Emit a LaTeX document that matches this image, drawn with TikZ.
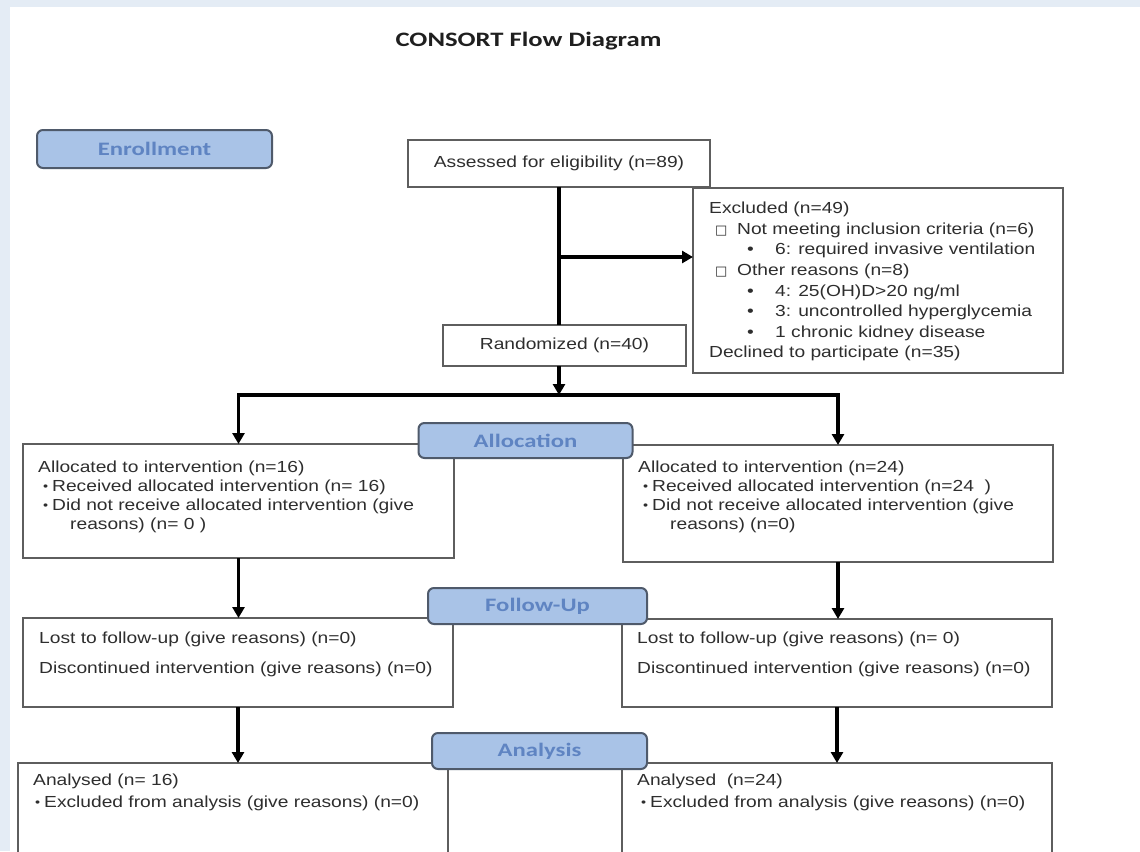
\documentclass[tikz,border=0pt]{standalone}
\usepackage{fontspec}
\usetikzlibrary{arrows.meta}
\setmainfont{Liberation Sans}[FakeStretch=1.2]
\newfontfamily\titlefont{Carlito}[FakeStretch=1.3]
\newfontfamily\symfont{DejaVu Sans}
\definecolor{bandblue}{HTML}{E4ECF5}
\definecolor{labfill}{HTML}{A9C3E7}
\definecolor{labtext}{HTML}{5F84C2}
\definecolor{labedge}{HTML}{4F5A6B}
\definecolor{boxedge}{HTML}{5E5E5E}
\definecolor{txt}{HTML}{2E2E2E}
\tikzset{
  box/.style={draw=boxedge, line width=1.8pt, fill=white, inner sep=0pt, outer sep=0pt},
  lab/.style={draw=labedge, line width=2pt, fill=labfill, rounded corners=6pt, inner sep=0pt,
    font={\titlefont\bfseries\fontsize{19}{19}\selectfont}, text=labtext},
  oneline/.style={inner sep=0pt, text=txt, font={\fontsize{16}{18}\selectfont}},
  txtblock/.style={inner sep=0pt, align=left, anchor=north west, text=txt},
  conn/.style={draw=black, line width=3.2pt},
  arr/.style={conn, -{Triangle[length=11pt,width=12pt]}}
}
\newcommand{\bx}[5]{\node[box, minimum width={(#4)-(#2)}, minimum height={(#5)-(#3)}, anchor=north west] (#1) at (#2,#3) {};}
\newcommand{\sbul}{\makebox[9pt][l]{\raisebox{1pt}{\fontsize{12}{12}\selectfont •}}}
\newcommand{\sqbox}{\makebox[22pt][l]{\symfont\fontsize{13}{13}\selectfont □}}
\begin{document}
\begin{tikzpicture}[x=1pt,y=-1pt]
\useasboundingbox (0,0) rectangle (1140,851);
\clip (0,0) rectangle (1140,851);
\fill[white] (0,0) rectangle (1140,851);
\fill[bandblue] (0,0) rectangle (1140,7);
\fill[bandblue] (0,0) rectangle (10,851);

% title
\node[inner sep=0pt, anchor=base, text=black!88, font={\titlefont\bfseries\fontsize{20.5}{20.5}\selectfont}] (title) at (528.5,46.6) {CONSORT Flow Diagram};

% boxes
\bx{assess}{408}{140}{710}{187}
\bx{rand}{443}{325}{686}{366}
\bx{excl}{693}{188}{1063}{373}
\bx{alL}{23}{444}{454}{558}
\bx{alR}{623}{445}{1053}{562}
\bx{fuL}{23}{618}{453}{707}
\bx{fuR}{622}{619}{1052}{707}
\bx{anL}{18}{763}{448}{880}
\bx{anR}{622}{763}{1052}{880}

% texts
\node[oneline] (assesstxt) at (assess.center) {Assessed for eligibility (n=89)};
\node[oneline] (randtxt) at (rand.center) {Randomized (n=40)};
\node[txtblock, font={\fontsize{16}{20.6}\selectfont}] (excltxt) at (709,202) {%
Excluded (n=49)\\
\hspace*{6pt}\sqbox Not meeting inclusion criteria (n=6)\\
\hspace*{38pt}\makebox[28pt][l]{•}6: required invasive ventilation\\
\hspace*{6pt}\sqbox Other reasons (n=8)\\
\hspace*{38pt}\makebox[28pt][l]{•}4: 25(OH)D>20 ng/ml\\
\hspace*{38pt}\makebox[28pt][l]{•}3: uncontrolled hyperglycemia\\
\hspace*{38pt}\makebox[28pt][l]{•}1 chronic kidney disease\\
Declined to participate (n=35)};
\node[txtblock, font={\fontsize{16}{19}\selectfont}] (alLtxt) at (38,461) {%
Allocated to intervention (n=16)\\
\hspace*{5pt}\sbul Received allocated intervention (n= 16)\\
\hspace*{5pt}\sbul Did not receive allocated intervention (give\\
\hspace*{32pt}reasons) (n= 0 )};
\node[txtblock, font={\fontsize{16}{19}\selectfont}] (alRtxt) at (638,461) {%
Allocated to intervention (n=24)\\
\hspace*{5pt}\sbul Received allocated intervention (n=24\ \ )\\
\hspace*{5pt}\sbul Did not receive allocated intervention (give\\
\hspace*{32pt}reasons) (n=0)};
\node[txtblock, font={\fontsize{16}{30}\selectfont}] (fuLtxt) at (39,632) {%
Lost to follow-up (give reasons) (n=0)\\
Discontinued intervention (give reasons) (n=0)};
\node[txtblock, font={\fontsize{16}{30}\selectfont}] (fuRtxt) at (637,632) {%
Lost to follow-up (give reasons) (n= 0)\\
Discontinued intervention (give reasons) (n=0)};
\node[txtblock, font={\fontsize{16}{22}\selectfont}] (anLtxt) at (33,774) {%
Analysed (n= 16)\\
\hspace*{2pt}\sbul Excluded from analysis (give reasons) (n=0)};
\node[txtblock, font={\fontsize{16}{22}\selectfont}] (anRtxt) at (637,774) {%
Analysed\ \ (n=24)\\
\hspace*{4pt}\sbul Excluded from analysis (give reasons) (n=0)};

% stage labels
\node[lab, minimum width=235, minimum height=38] (enroll) at (154.5,149) {Enrollment};
\node[lab, minimum width=214, minimum height=35] (alloclab) at (525.5,440.5) {Allocation};
\node[lab, minimum width=219, minimum height=36] (fulab) at (537.5,606) {Follow-Up};
\node[lab, minimum width=215, minimum height=36] (analab) at (539.5,751) {Analysis};

% connectors
\path (assess.south) ++(0,70) coordinate (exclsplit);
\path (assess.south |- rand.south) ++(0,29) coordinate (allocsplit);
\draw[conn] (assess.south) -- (assess.south |- rand.north);
\draw[arr] (exclsplit) -- (exclsplit -| excl.west);
\draw[arr] (assess.south |- rand.south) -- (allocsplit);
\draw[arr] (allocsplit) -| (alL.north);
\draw[arr] (allocsplit) -| (alR.north);
\draw[arr] (alL.south) -- (alL.south |- fuL.north);
\draw[arr] (alR.south) -- (alR.south |- fuR.north);
\draw[arr] (fuL.south) -- (fuL.south |- anL.north);
\draw[arr] (fuR.south) -- (fuR.south |- anR.north);
\end{tikzpicture}
\end{document}
